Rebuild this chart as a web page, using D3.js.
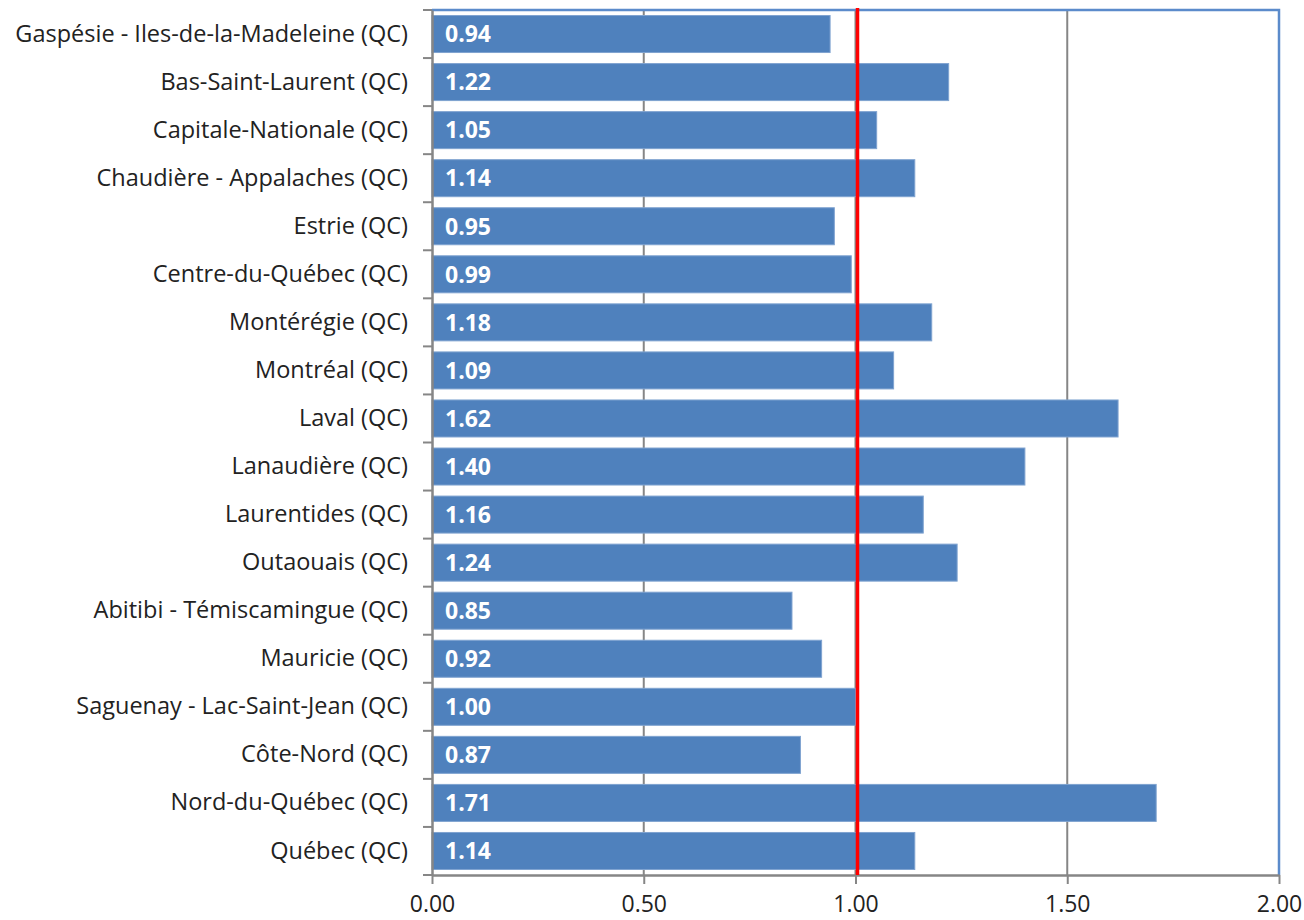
<!DOCTYPE html>
<html lang="en">
<head>
<meta charset="UTF-8">
<title>Quebec regions</title>
<style>
  body { margin: 0; background: #fff; }
  text { font-family: "Open Sans", Lato, sans-serif; }
</style>
</head>
<body>
<script src="https://d3js.org/d3.v7.min.js"></script>
<script>
// Data
const regions = ["Gaspésie - Iles-de-la-Madeleine (QC)", "Bas-Saint-Laurent (QC)", "Capitale-Nationale (QC)",
  "Chaudière - Appalaches (QC)", "Estrie (QC)", "Centre-du-Québec (QC)", "Montérégie (QC)", "Montréal (QC)",
  "Laval (QC)", "Lanaudière (QC)", "Laurentides (QC)", "Outaouais (QC)", "Abitibi - Témiscamingue (QC)",
  "Mauricie (QC)", "Saguenay - Lac-Saint-Jean (QC)", "Côte-Nord (QC)", "Nord-du-Québec (QC)", "Québec (QC)"];
const values = [0.94, 1.22, 1.05, 1.14, 0.95, 0.99, 1.18, 1.09, 1.62, 1.40, 1.16, 1.24, 0.85, 0.92, 1.00, 0.87, 1.71, 1.14];
const xTicks = [0, 0.5, 1, 1.5, 2];
const refValue = 1.0;

// Dimensions
const width = 1304, height = 920;
const plotLeft = 432, plotRight = 1279, plotTop = 10, plotBottom = 875;

const svg = d3.select("body").append("svg")
  .attr("width", width)
  .attr("height", height);

const x = d3.scaleLinear().domain([0, 2]).range([plotLeft, plotRight]);
const y = d3.scaleBand().domain(regions).range([plotTop, plotBottom]).paddingInner(0.23).paddingOuter(0.115);

// gridlines
svg.append("g")
  .selectAll("line")
  .data(xTicks.slice(1, -1))
  .enter()
  .append("line")
  .attr("x1", d => x(d)).attr("x2", d => x(d))
  .attr("y1", plotTop).attr("y2", plotBottom)
  .attr("stroke", "#868686")
  .attr("stroke-width", 2);

// plot border top/right (blue)
svg.append("path")
  .attr("d", "M" + plotLeft + "," + plotTop + "H" + plotRight + "V" + plotBottom)
  .attr("fill", "none")
  .attr("stroke", "#5B8BCB")
  .attr("stroke-width", 2.5);

// bars
svg.append("g")
  .selectAll("rect")
  .data(values)
  .enter()
  .append("rect")
  .attr("x", x(0))
  .attr("y", (d, i) => y(regions[i]))
  .attr("width", d => x(d) - x(0))
  .attr("height", y.bandwidth())
  .attr("fill", "#4F81BD")
  .attr("stroke", "#7FA3D0")
  .attr("stroke-width", 1);

// value labels
svg.append("g")
  .selectAll("text")
  .data(values)
  .enter()
  .append("text")
  .attr("x", x(0) + 13)
  .attr("y", (d, i) => y(regions[i]) + y.bandwidth() / 2)
  .attr("dy", "0.36em")
  .attr("fill", "#fff")
  .attr("font-weight", "bold")
  .attr("font-size", "23px")
  .text(d => d.toFixed(2));

// left axis
const yAxis = svg.append("g")
  .attr("transform", "translate(" + plotLeft + ",0)")
  .call(d3.axisLeft(y).tickSize(0).tickPadding(24));
yAxis.select(".domain").attr("stroke", "#868686").attr("stroke-width", 2.5);
yAxis.selectAll("text").attr("font-size", "23.5px").attr("fill", "#222");

// category tick marks at band boundaries
svg.append("g")
  .selectAll("line")
  .data(d3.range(regions.length + 1))
  .enter()
  .append("line")
  .attr("x1", plotLeft - 9).attr("x2", plotLeft)
  .attr("y1", i => plotTop + i * y.step()).attr("y2", i => plotTop + i * y.step())
  .attr("stroke", "#868686")
  .attr("stroke-width", 2);

// bottom axis
const xAxis = svg.append("g")
  .attr("transform", "translate(0," + plotBottom + ")")
  .call(d3.axisBottom(x).tickValues(xTicks).tickFormat(d3.format(".2f")).tickSizeInner(9).tickSizeOuter(0).tickPadding(12));
xAxis.select(".domain").attr("stroke", "#868686").attr("stroke-width", 2.5);
xAxis.selectAll(".tick line").attr("stroke", "#868686").attr("stroke-width", 2);
xAxis.selectAll("text").attr("font-size", "23px").attr("fill", "#222");

// reference line
svg.append("line")
  .attr("x1", x(refValue) + 2).attr("x2", x(refValue) + 2)
  .attr("y1", plotTop - 2).attr("y2", plotBottom)
  .attr("stroke", "#FF0000")
  .attr("stroke-width", 3.5);
</script>
</body>
</html>
